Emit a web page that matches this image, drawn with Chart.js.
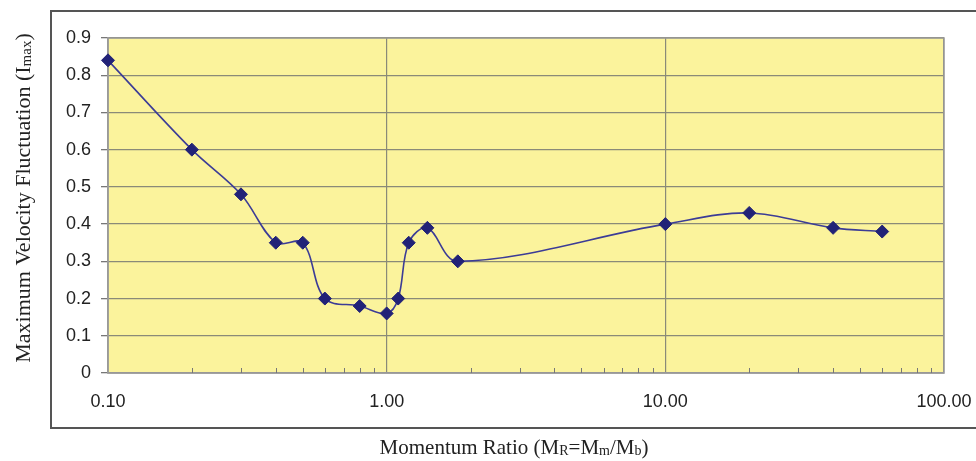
<!DOCTYPE html>
<html><head><meta charset="utf-8">
<script src="https://cdn.jsdelivr.net/npm/chart.js@4"></script>
<style>html,body{margin:0;padding:0;background:#fff}</style>
</head><body>
<canvas id="c" width="976" height="461"></canvas>
<script>
const momentumRatio = [0.1, 0.2, 0.3, 0.4, 0.5, 0.6, 0.8, 1.0, 1.1, 1.2, 1.4, 1.8, 10, 20, 40, 60];
const velocityFluct = [0.84, 0.60, 0.48, 0.35, 0.35, 0.20, 0.18, 0.16, 0.20, 0.35, 0.39, 0.30, 0.40, 0.43, 0.39, 0.38];
const xTickValues = [0.1,0.2,0.3,0.4,0.5,0.6,0.7,0.8,0.9,1,2,3,4,5,6,7,8,9,10,20,30,40,50,60,70,80,90,100];
const xTickLabels = ['0.10', '1.00', '10.00', '100.00'];
const yTickLabels = ['0', '0.1', '0.2', '0.3', '0.4', '0.5', '0.6', '0.7', '0.8', '0.9'];
const yTitleParts = [['Maximum Velocity Fluctuation (I', false], ['max', true], [')', false]];
const xTitleParts = [['Momentum Ratio (M', false], ['R', true], ['=M', false], ['m', true], ['/M', false], ['b', true], [')', false]];

function isMajor(v) { const l = Math.log10(v); return Math.abs(l - Math.round(l)) < 1e-6; }

function drawRich(ctx, parts, cx, cy, rot, size) {
  const mainFont = size + 'px "Liberation Serif", "Times New Roman", serif';
  const subFont = Math.round(size * 0.68) + 'px "Liberation Serif", "Times New Roman", serif';
  ctx.save();
  ctx.translate(cx, cy);
  if (rot) ctx.rotate(rot);
  let total = 0;
  parts.forEach(p => { ctx.font = p[1] ? subFont : mainFont; total += ctx.measureText(p[0]).width; });
  let x = -total / 2;
  ctx.fillStyle = '#222';
  ctx.textBaseline = 'alphabetic';
  const base = size * 0.35;
  parts.forEach(p => {
    ctx.font = p[1] ? subFont : mainFont;
    ctx.fillText(p[0], x, p[1] ? base + 1 : base);
    x += ctx.measureText(p[0]).width;
  });
  ctx.restore();
}

const decor = {
  id: 'decor',
  beforeDraw(chart) {
    const { ctx, chartArea: a } = chart;
    ctx.save();
    ctx.fillStyle = '#fff';
    ctx.fillRect(0, 0, chart.width, chart.height);
    ctx.strokeStyle = '#555';
    ctx.lineWidth = 2;
    ctx.strokeRect(51, 11, 940, 417);
    ctx.fillStyle = '#fbf39c';
    ctx.fillRect(a.left, a.top, a.right - a.left, a.bottom - a.top);
    ctx.restore();
  },
  beforeDatasetsDraw(chart) {
    const { ctx, chartArea: a } = chart;
    const xs = chart.scales.x;
    ctx.save();
    ctx.strokeStyle = '#999';
    ctx.lineWidth = 1.5;
    ctx.strokeRect(a.left, a.top, a.right - a.left, a.bottom - a.top);
    ctx.strokeStyle = '#777';
    ctx.lineWidth = 1;
    xTickValues.forEach(v => {
      if (isMajor(v)) return;
      const px = Math.round(xs.getPixelForValue(v)) + 0.5;
      ctx.beginPath();
      ctx.moveTo(px, a.bottom);
      ctx.lineTo(px, a.bottom - 5);
      ctx.stroke();
    });
    ctx.restore();
  },
  afterDraw(chart) {
    const ctx = chart.ctx;
    drawRich(ctx, yTitleParts, 22, 198, -Math.PI / 2, 22);
    drawRich(ctx, xTitleParts, 514, 447, 0, 21);
  }
};

new Chart(document.getElementById('c'), {
  type: 'line',
  data: {
    datasets: [{
      data: momentumRatio.map((x, i) => ({ x: x, y: velocityFluct[i] })),
      borderColor: '#3c3c96',
      borderWidth: 1.6,
      tension: 0.35,
      pointStyle: 'rectRot',
      pointRadius: 6.5,
      pointBackgroundColor: '#222277',
      pointBorderColor: '#222277',
      pointBorderWidth: 1,
      clip: false
    }]
  },
  options: {
    responsive: false,
    animation: false,
    layout: { padding: { left: 58, right: 32, top: 38, bottom: 48 } },
    plugins: { legend: { display: false }, tooltip: { enabled: false } },
    scales: {
      x: {
        type: 'logarithmic',
        min: 0.1, max: 100,
        afterBuildTicks(scale) { scale.ticks = xTickValues.map(v => ({ value: v })); },
        afterFit(scale) { scale.height = 40; scale.paddingLeft = 0; scale.paddingRight = 0; },
        ticks: {
          autoSkip: false, maxRotation: 0, padding: 18,
          color: '#222',
          font: { family: '"Liberation Sans", Arial, sans-serif', size: 18 },
          callback: (v) => isMajor(v) ? xTickLabels[Math.round(Math.log10(v)) + 1] : ''
        },
        grid: {
          color: (c) => (c.tick && isMajor(c.tick.value)) ? '#8a8a78' : 'rgba(0,0,0,0)',
          lineWidth: 1.2,
          drawTicks: false
        },
        border: { display: true, color: '#999', width: 1.5 }
      },
      y: {
        min: 0, max: 0.9,
        afterFit(scale) { scale.width = 50; },
        ticks: {
          stepSize: 0.1, padding: 10,
          color: '#222',
          font: { family: '"Liberation Sans", Arial, sans-serif', size: 18 },
          callback: (v, i) => yTickLabels[i]
        },
        grid: { color: '#8a8a78', lineWidth: 1.3, tickLength: 7, tickColor: '#777' },
        border: { display: true, color: '#999', width: 1.5 }
      }
    }
  },
  plugins: [decor]
});
</script>
</body></html>
